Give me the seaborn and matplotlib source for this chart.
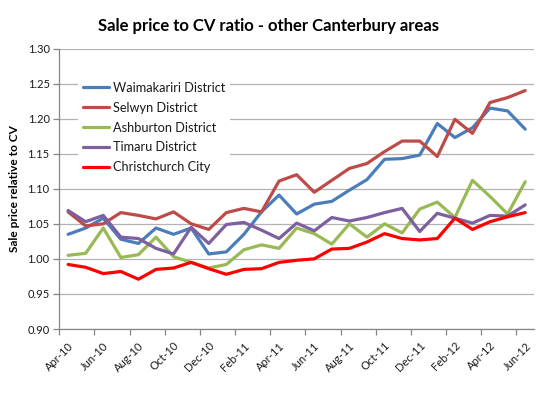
import matplotlib
matplotlib.use("Agg")
import matplotlib.pyplot as plt
import seaborn as sns
import pandas as pd
import numpy as np

months = ["Apr-10", "May-10", "Jun-10", "Jul-10", "Aug-10", "Sep-10", "Oct-10",
          "Nov-10", "Dec-10", "Jan-11", "Feb-11", "Mar-11", "Apr-11", "May-11",
          "Jun-11", "Jul-11", "Aug-11", "Sep-11", "Oct-11", "Nov-11", "Dec-11",
          "Jan-12", "Feb-12", "Mar-12", "Apr-12", "May-12", "Jun-12"]

waimakariri = [1.035, 1.044, 1.058, 1.028, 1.022, 1.044, 1.035, 1.044, 1.007, 1.010,
               1.035, 1.067, 1.091, 1.064, 1.078, 1.082, 1.098, 1.113, 1.142, 1.143,
               1.148, 1.193, 1.173, 1.187, 1.215, 1.211, 1.185]
selwyn = [1.067, 1.047, 1.050, 1.066, 1.062, 1.057, 1.067, 1.050, 1.042, 1.066,
          1.072, 1.067, 1.111, 1.120, 1.095, 1.112, 1.129, 1.136, 1.153, 1.168,
          1.168, 1.146, 1.199, 1.179, 1.223, 1.230, 1.240]
ashburton = [1.005, 1.008, 1.044, 1.002, 1.006, 1.031, 1.003, 0.995, 0.987, 0.992,
             1.013, 1.020, 1.015, 1.044, 1.036, 1.021, 1.050, 1.031, 1.050, 1.037,
             1.071, 1.081, 1.059, 1.112, 1.089, 1.064, 1.110]
timaru = [1.069, 1.053, 1.062, 1.031, 1.029, 1.015, 1.007, 1.045, 1.022, 1.049,
          1.052, 1.041, 1.029, 1.051, 1.040, 1.059, 1.054, 1.059, 1.066, 1.072,
          1.039, 1.065, 1.058, 1.051, 1.062, 1.061, 1.077]
christchurch = [0.992, 0.988, 0.979, 0.982, 0.971, 0.985, 0.987, 0.995, 0.986, 0.978,
                0.985, 0.986, 0.995, 0.998, 1.000, 1.014, 1.015, 1.024, 1.036, 1.029,
                1.027, 1.029, 1.058, 1.042, 1.053, 1.060, 1.066]

series_names = ["Waimakariri District", "Selwyn District", "Ashburton District",
                "Timaru District", "Christchurch City"]
series_values = [waimakariri, selwyn, ashburton, timaru, christchurch]
colors = ["#4A7EBB", "#BE4B48", "#98B954", "#7D60A0", "#FF0000"]

y_ticks = [0.90, 0.95, 1.00, 1.05, 1.10, 1.15, 1.20, 1.25, 1.30]

rows = []
for name, vals in zip(series_names, series_values):
    for i, v in enumerate(vals):
        rows.append({"idx": i, "month": months[i], "value": v, "series": name})
df = pd.DataFrame(rows)

sns.set_theme(style="white")
plt.rcParams["font.family"] = ["Lato", "DejaVu Sans"]

fig = plt.figure(figsize=(5.4, 3.96), dpi=100)
ax = fig.add_axes([59.3 / 540, 1 - 329 / 396, (534 - 59.3) / 540, (329 - 48.5) / 396])

sns.lineplot(data=df, x="idx", y="value", hue="series", hue_order=series_names,
             palette=colors, linewidth=2.3, sort=False, ax=ax, legend=True)

ax.set_xlim(-0.5, len(months) - 0.5)
ax.set_ylim(0.90, 1.30)
ax.set_yticks(y_ticks)
ax.set_yticklabels([f"{t:.2f}" for t in y_ticks], fontsize=8, color="#1a1a1a")
ax.yaxis.grid(True, color="#B3B3B3", linewidth=0.9)
ax.set_axisbelow(True)

major = list(range(0, len(months), 2))
ax.set_xticks(major)
ax.set_xticklabels([months[i] for i in major], rotation=45, ha="right",
                   rotation_mode="anchor", fontsize=8, color="#1a1a1a")
ax.set_xticks(np.arange(-0.5, len(months) - 0.5, 2), minor=True)
ax.tick_params(axis="x", which="major", length=0, pad=8)
ax.tick_params(axis="x", which="minor", length=4, color="#868686", width=0.9,
               direction="out", bottom=True)
ax.tick_params(axis="y", length=4, color="#868686", width=0.9, direction="out",
               left=True, pad=3)

for s in ["top", "right"]:
    ax.spines[s].set_visible(False)
ax.spines["left"].set_color("#868686")
ax.spines["bottom"].set_color("#868686")
ax.spines["left"].set_linewidth(0.9)
ax.spines["bottom"].set_linewidth(0.9)

ax.set_xlabel("")
ax.set_ylabel("Sale price relative to CV", fontsize=8.6, fontweight="bold",
              color="#000000", labelpad=5)

leg = ax.legend(loc="upper left", bbox_to_anchor=(0.04, 0.90), fontsize=9.2,
                frameon=True, facecolor="white", edgecolor="none", framealpha=1,
                handlelength=2.0, handletextpad=0.3, labelspacing=0.62,
                borderpad=0.4, borderaxespad=0)
for line in leg.get_lines():
    line.set_linewidth(2.3)
for t in leg.get_texts():
    t.set_color("#1a1a1a")

fig.text(0.497, 1 - 26 / 396, "Sale price to CV ratio - other Canterbury areas",
         ha="center", va="center", fontsize=12, fontweight="bold", color="#000000")

fig.savefig("out.png", dpi=100, facecolor="white")
